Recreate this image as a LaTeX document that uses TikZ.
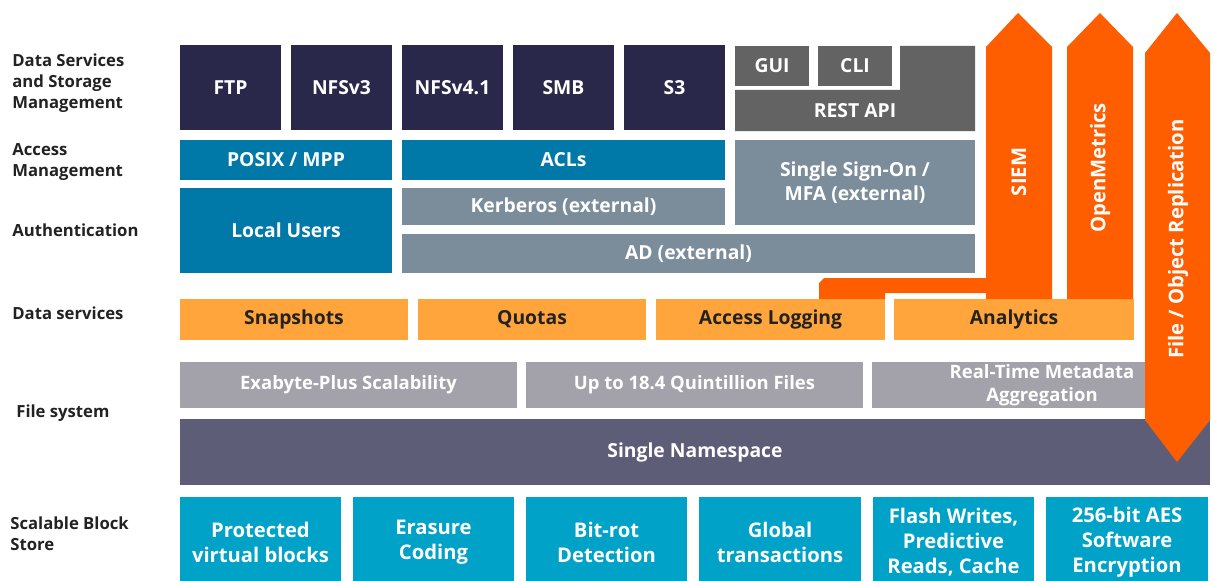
\documentclass[tikz,border=0pt]{standalone}
\usepackage{fontspec}
\setmainfont{Open Sans}

\definecolor{navy}{HTML}{29284A}
\definecolor{accblue}{HTML}{0078A8}
\definecolor{slate}{HTML}{7B8D9B}
\definecolor{apigrey}{HTML}{636363}
\definecolor{flame}{HTML}{FF5E00}
\definecolor{amber}{HTML}{FFA53B}
\definecolor{fsgrey}{HTML}{A3A2AB}
\definecolor{nsgrey}{HTML}{5E5D78}
\definecolor{cyanblk}{HTML}{00A2C8}
\definecolor{ink}{HTML}{222222}

% \tile{name}{style}{x1}{y1}{x2}{y2}{text}, corners in pixels
\newcommand\tile[7]{\node[#2, minimum width={(#5-#3)*0.02cm}, minimum height={(#6-#4)*0.02cm}]
  (#1) at ({(#3+#5)/2},{(#4+#6)/2}) {#7};}

\tikzset{
  box/.style={inner sep=0pt, text=white, align=center,
    font=\bfseries\fontsize{11}{14}\selectfont},
  svc/.style={box, fill=amber, text=ink},
  fs/.style={box, fill=fsgrey, font=\bfseries\fontsize{10.5}{13}\selectfont},
  blkstore/.style={box, fill=cyanblk, font=\bfseries\fontsize{11.5}{14.2}\selectfont},
  lbl/.style={anchor=west, inner sep=0pt, text=ink, align=left,
    font=\bfseries\fontsize{9.5}{12}\selectfont},
  vlabel/.style={rotate=90, text=white, font=\bfseries\fontsize{11.5}{13}\selectfont}
}

\begin{document}
\begin{tikzpicture}[x=0.02cm,y=-0.02cm]
\useasboundingbox (0,0) rectangle (1213,581);

% layer names
\node[lbl] (lds) at (12,83) {Data Services\\and Storage\\Management};
\node[lbl] (lam) at (12,162) {Access\\Management};
\node[lbl] (lau) at (12,230) {Authentication};
\node[lbl] (lsv) at (12,313) {Data services};
\node[lbl] (lfs) at (16,413) {File system};
\node[lbl] (lbs) at (10,534) {Scalable Block\\Store};

% protocols and management
\tile{ftp}{box, fill=navy}{180}{45}{281}{130}{FTP}
\tile{nfs3}{box, fill=navy}{291}{45}{392}{130}{NFSv3}
\tile{nfs4}{box, fill=navy}{402}{45}{503}{130}{NFSv4.1}
\tile{smb}{box, fill=navy}{513}{45}{614}{130}{SMB}
\tile{s3}{box, fill=navy}{624}{45}{725}{130}{S3}
\tile{gui}{box, fill=apigrey}{735}{46}{809}{86}{GUI}
\tile{cli}{box, fill=apigrey}{818}{46}{892}{86}{CLI}
\fill[apigrey] (900,46) -- (975,46) -- (975,131) -- (735,131) -- (735,90) -- (900,90) -- cycle;
\tile{rest}{box}{735}{90}{975}{131}{REST API}

% access and authentication
\tile{posix}{box, fill=accblue}{180}{140}{392}{180}{POSIX / MPP}
\tile{acl}{box, fill=accblue}{402}{140}{725}{180}{ACLs}
\tile{sso}{box, fill=slate}{735}{140}{975}{225}{Single Sign-On /\\MFA (external)}
\tile{local}{box, fill=accblue}{180}{188}{392}{273}{Local Users}
\tile{krb}{box, fill=slate}{402}{188}{725}{225}{Kerberos (external)}
\tile{ad}{box, fill=slate}{402}{234}{975}{273}{AD (external)}

% data services
\tile{snap}{svc}{180}{299}{408}{340}{Snapshots}
\tile{quota}{svc}{418}{299}{646}{340}{Quotas}
\tile{alog}{svc}{656}{299}{885}{340}{Access Logging}
\tile{anly}{svc}{894}{299}{1134}{340}{Analytics}

% file system
\tile{exa}{fs}{180}{362}{517}{408}{Exabyte-Plus Scalability}
\tile{quint}{fs}{526}{362}{863}{408}{Up to 18.4 Quintillion Files}
\tile{meta}{fs}{872}{362}{1147}{408}{\hspace*{37pt}Real-Time Metadata\\\hspace*{37pt}Aggregation}
\tile{ns}{box, fill=nsgrey}{180}{419}{1210}{485}{Single Namespace}

% block store
\tile{prot}{blkstore}{180}{497}{341}{588}{Protected\\virtual blocks}
\tile{eras}{blkstore}{353}{497}{514}{588}{Erasure\\Coding}
\tile{brot}{blkstore}{526}{497}{687}{588}{Bit-rot\\Detection}
\tile{gtx}{blkstore}{699}{497}{861}{588}{Global\\transactions}
\tile{flash}{blkstore}{873}{497}{1034}{588}{Flash Writes,\\Predictive\\Reads, Cache}
\tile{aes}{blkstore}{1046}{497}{1208}{588}{256-bit AES\\Software\\Encryption}

% vertical arrows
\fill[flame] (1018,13) -- (1052,47) -- (1052,299) -- (986,299) -- (986,293) -- (885,293)
  -- (885,299) -- (819,299) -- (819,283) -- (824,278) -- (986,278) -- (986,47) -- cycle;
\fill[flame] (1100,13) -- (1133,47) -- (1133,299) -- (1067,299) -- (1067,47) -- cycle;
\fill[flame] (1177,13) -- (1210,53) -- (1210,420) -- (1177,462) -- (1145,420) -- (1145,53) -- cycle;
\node[vlabel] (siem) at (1019,172) {SIEM};
\node[vlabel] (ometr) at (1100,168) {OpenMetrics};
\node[vlabel] (repl) at (1178,239) {File / Object Replication};
\end{tikzpicture}
\end{document}
